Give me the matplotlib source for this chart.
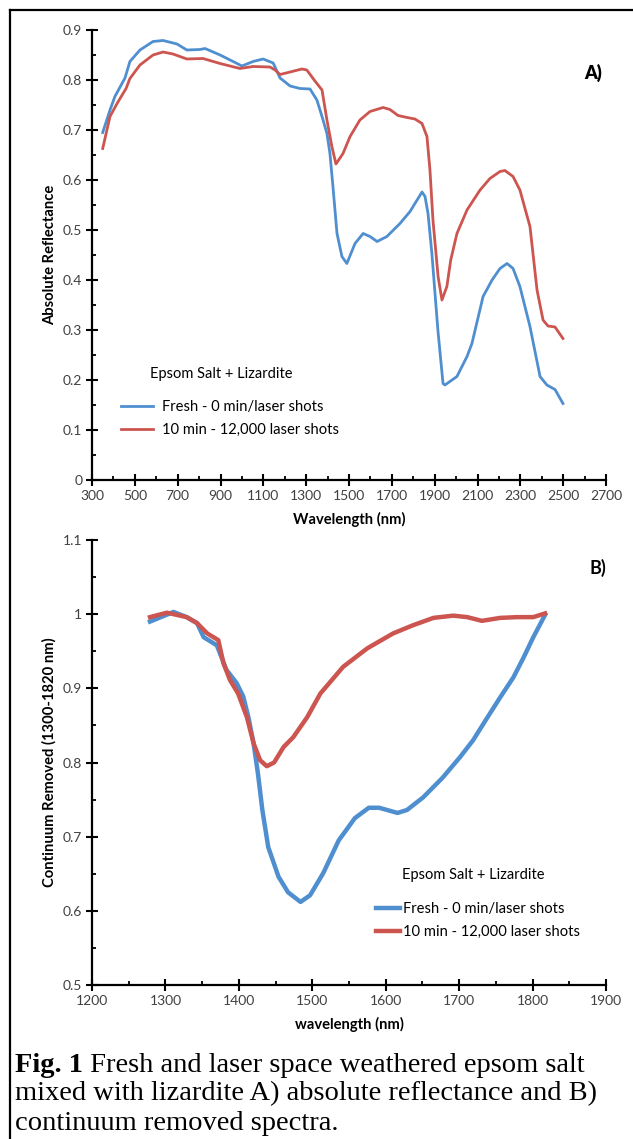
import matplotlib
matplotlib.use("Agg")
import matplotlib.pyplot as plt
from matplotlib.lines import Line2D
from matplotlib.ticker import MultipleLocator, FixedLocator, FormatStrFormatter

plt.rcParams['font.family'] = ['Lato', 'DejaVu Sans']

# Panel A - absolute reflectance
wl_a_fresh = [350, 384, 407, 454, 477, 524, 585, 632, 697, 743, 804, 828, 898, 959, 1000,
              1052, 1099, 1146, 1178, 1225, 1271, 1318, 1350, 1374, 1397, 1411, 1425, 1444,
              1467, 1490, 1528, 1566, 1598, 1631, 1677, 1738, 1785, 1818, 1841, 1855, 1869,
              1887, 1915, 1939, 1948, 2004, 2051, 2074, 2126, 2168, 2205, 2238, 2266, 2298,
              2345, 2392, 2424, 2462, 2499]
refl_fresh = [0.695, 0.740, 0.767, 0.804, 0.837, 0.860, 0.877, 0.879, 0.872, 0.860, 0.861,
              0.863, 0.850, 0.837, 0.828, 0.837, 0.842, 0.834, 0.804, 0.788, 0.783, 0.782,
              0.760, 0.727, 0.693, 0.653, 0.587, 0.493, 0.447, 0.433, 0.473, 0.493, 0.487,
              0.477, 0.487, 0.513, 0.537, 0.560, 0.576, 0.567, 0.533, 0.453, 0.300, 0.193,
              0.190, 0.207, 0.247, 0.273, 0.367, 0.400, 0.423, 0.433, 0.423, 0.387, 0.307,
              0.207, 0.190, 0.181, 0.153]

wl_a_lased = [350, 384, 417, 459, 477, 524, 585, 632, 678, 743, 818, 898, 991, 1052, 1131,
              1155, 1178, 1225, 1280, 1303, 1341, 1374, 1397, 1420, 1439, 1472, 1505, 1551,
              1598, 1659, 1691, 1729, 1771, 1808, 1841, 1864, 1878, 1892, 1916, 1934, 1957,
              1975, 2004, 2051, 2112, 2158, 2205, 2228, 2266, 2298, 2345, 2359, 2378, 2406,
              2429, 2462, 2499]
refl_lased = [0.663, 0.727, 0.753, 0.783, 0.803, 0.830, 0.850, 0.856, 0.852, 0.842, 0.843,
              0.833, 0.823, 0.827, 0.826, 0.820, 0.811, 0.816, 0.822, 0.820, 0.798, 0.780,
              0.720, 0.667, 0.632, 0.653, 0.687, 0.720, 0.737, 0.745, 0.741, 0.729, 0.725,
              0.722, 0.713, 0.687, 0.620, 0.520, 0.407, 0.360, 0.387, 0.440, 0.493, 0.540,
              0.580, 0.603, 0.617, 0.619, 0.607, 0.580, 0.507, 0.453, 0.380, 0.320, 0.308,
              0.306, 0.283]

# Panel B - continuum removed
wl_b_fresh = [1279, 1311, 1329, 1343, 1352, 1370, 1383, 1397, 1406, 1413, 1420, 1426, 1432,
              1440, 1454, 1467, 1484, 1497, 1515, 1536, 1558, 1577, 1591, 1616, 1629, 1651,
              1677, 1701, 1719, 1738, 1756, 1774, 1788, 1801, 1817]
cr_fresh = [0.990, 1.003, 0.996, 0.988, 0.969, 0.958, 0.925, 0.907, 0.889, 0.861, 0.826,
            0.785, 0.736, 0.686, 0.646, 0.625, 0.612, 0.621, 0.651, 0.695, 0.725, 0.739,
            0.739, 0.732, 0.736, 0.753, 0.779, 0.807, 0.830, 0.860, 0.888, 0.915, 0.942,
            0.969, 0.999]

wl_b_lased = [1279, 1302, 1329, 1343, 1357, 1372, 1379, 1388, 1399, 1411, 1420, 1429, 1438,
              1448, 1461, 1474, 1493, 1511, 1542, 1575, 1610, 1637, 1665, 1692, 1711, 1731,
              1756, 1779, 1801, 1817]
cr_lased = [0.996, 1.002, 0.996, 0.988, 0.974, 0.965, 0.934, 0.911, 0.893, 0.861, 0.826,
            0.803, 0.795, 0.800, 0.821, 0.834, 0.861, 0.893, 0.929, 0.954, 0.974, 0.985,
            0.995, 0.998, 0.996, 0.991, 0.995, 0.996, 0.996, 1.001]

xticks_a = [300, 500, 700, 900, 1100, 1300, 1500, 1700, 1900, 2100, 2300, 2500, 2700]

legend_title = "Epsom Salt + Lizardite"
label_fresh = "Fresh - 0 min/laser shots"
label_lased = "10 min - 12,000 laser shots"

blue = '#4f8fd0'
red = '#cc5550'
tick_col = '#404040'

W, H = 633, 1139
fig = plt.figure(figsize=(W / 100, H / 100), dpi=100)

def style_axes(ax):
    for s in ['top', 'right']:
        ax.spines[s].set_visible(False)
    for s in ['left', 'bottom']:
        ax.spines[s].set_linewidth(1.6)
    ax.tick_params(which='major', direction='inout', length=8, width=1.5,
                   labelsize=10, labelcolor=tick_col, pad=3)
    ax.tick_params(which='minor', direction='in', length=3, width=1.3)
    ax.yaxis.set_major_formatter(FormatStrFormatter('%g'))

# ---- Panel A ----
axA = fig.add_axes([92 / W, 1 - 480 / H, 514 / W, 450 / H])
axA.plot(wl_a_fresh, refl_fresh, color=blue, lw=2.0, solid_joinstyle='round', label=label_fresh)
axA.plot(wl_a_lased, refl_lased, color=red, lw=2.0, solid_joinstyle='round', label=label_lased)
axA.set_xlim(300, 2700)
axA.set_ylim(0, 0.9)
axA.xaxis.set_major_locator(FixedLocator(xticks_a))
axA.xaxis.set_minor_locator(MultipleLocator(100))
axA.yaxis.set_major_locator(MultipleLocator(0.1))
axA.yaxis.set_minor_locator(MultipleLocator(0.05))
style_axes(axA)
axA.set_xlabel("Wavelength (nm)", fontsize=10.6, fontweight='bold')
axA.set_ylabel("Absolute Reflectance", fontsize=10.6, fontweight='bold')
axA.xaxis.set_label_coords(0.5, -(512 - 480) / 450)
axA.yaxis.set_label_coords(-(92 - 57) / 514, 0.5)
axA.text(0.975, 0.905, "A)", transform=axA.transAxes, fontsize=13, fontweight='heavy',
         ha='center', va='center')
axA.text((221 - 92) / 514, (480 - 374) / 450, legend_title, transform=axA.transAxes,
         fontsize=10.5, ha='center', va='center')
axA.legend(loc='upper left', bbox_to_anchor=((121 - 92) / 514, (480 - 400) / 450),
           frameon=False, fontsize=10.6, handlelength=2.2, handletextpad=0.6,
           labelspacing=0.6, borderaxespad=0, borderpad=0)

# ---- Panel B ----
axB = fig.add_axes([92 / W, 1 - 985 / H, 514 / W, 445 / H])
axB.plot(wl_b_fresh, cr_fresh, color=blue, lw=3.2, solid_joinstyle='round', label=label_fresh)
axB.plot(wl_b_lased, cr_lased, color=red, lw=3.2, solid_joinstyle='round', label=label_lased)
axB.set_xlim(1200, 1900)
axB.set_ylim(0.5, 1.1)
axB.xaxis.set_major_locator(MultipleLocator(100))
axB.xaxis.set_minor_locator(MultipleLocator(50))
axB.yaxis.set_major_locator(MultipleLocator(0.1))
axB.yaxis.set_minor_locator(MultipleLocator(0.05))
style_axes(axB)
axB.set_xlabel("wavelength (nm)", fontsize=10.6, fontweight='bold')
axB.set_ylabel("Continuum Removed (1300-1820 nm)", fontsize=10.6, fontweight='bold')
axB.xaxis.set_label_coords(0.5, -(1017 - 985) / 445)
axB.yaxis.set_label_coords(-(92 - 57) / 514, 0.5)
axB.text(0.985, (985 - 568) / 445, "B)", transform=axB.transAxes, fontsize=13,
         fontweight='bold', ha='center', va='center')
axB.text((473 - 92) / 514, (985 - 875) / 445, legend_title, transform=axB.transAxes,
         fontsize=10.5, ha='center', va='center')
axB.legend(loc='upper left', bbox_to_anchor=((376 - 92) / 514, (985 - 902) / 445),
           frameon=False, fontsize=10.6, handlelength=1.6, handletextpad=0.25,
           labelspacing=0.6, borderaxespad=0, borderpad=0)

# ---- frame and caption ----
fig.add_artist(Line2D([10 / W, 10 / W], [0, 1 - 10 / H], color='black', lw=1.6,
                      transform=fig.transFigure))
fig.add_artist(Line2D([10 / W, 1], [1 - 10 / H, 1 - 10 / H], color='black', lw=1.6,
                      transform=fig.transFigure))

cap_font = 'Liberation Serif'
cap_size = 20.5
lines_y = [1065, 1094, 1123]
t1 = fig.text(15 / W, 1 - lines_y[0] / H, "Fig. 1", family=cap_font, fontsize=cap_size,
              fontweight='bold', va='center')
plt.annotate(" Fresh and laser space weathered epsom salt", xy=(1, 0.5), xycoords=t1,
             va='center', ha='left', family=cap_font, fontsize=cap_size,
             annotation_clip=False)
fig.text(15 / W, 1 - lines_y[1] / H, "mixed with lizardite A) absolute reflectance and B)",
         family=cap_font, fontsize=cap_size, va='center')
fig.text(15 / W, 1 - lines_y[2] / H, "continuum removed spectra.",
         family=cap_font, fontsize=cap_size, va='center')

fig.savefig("out.png", dpi=100)
